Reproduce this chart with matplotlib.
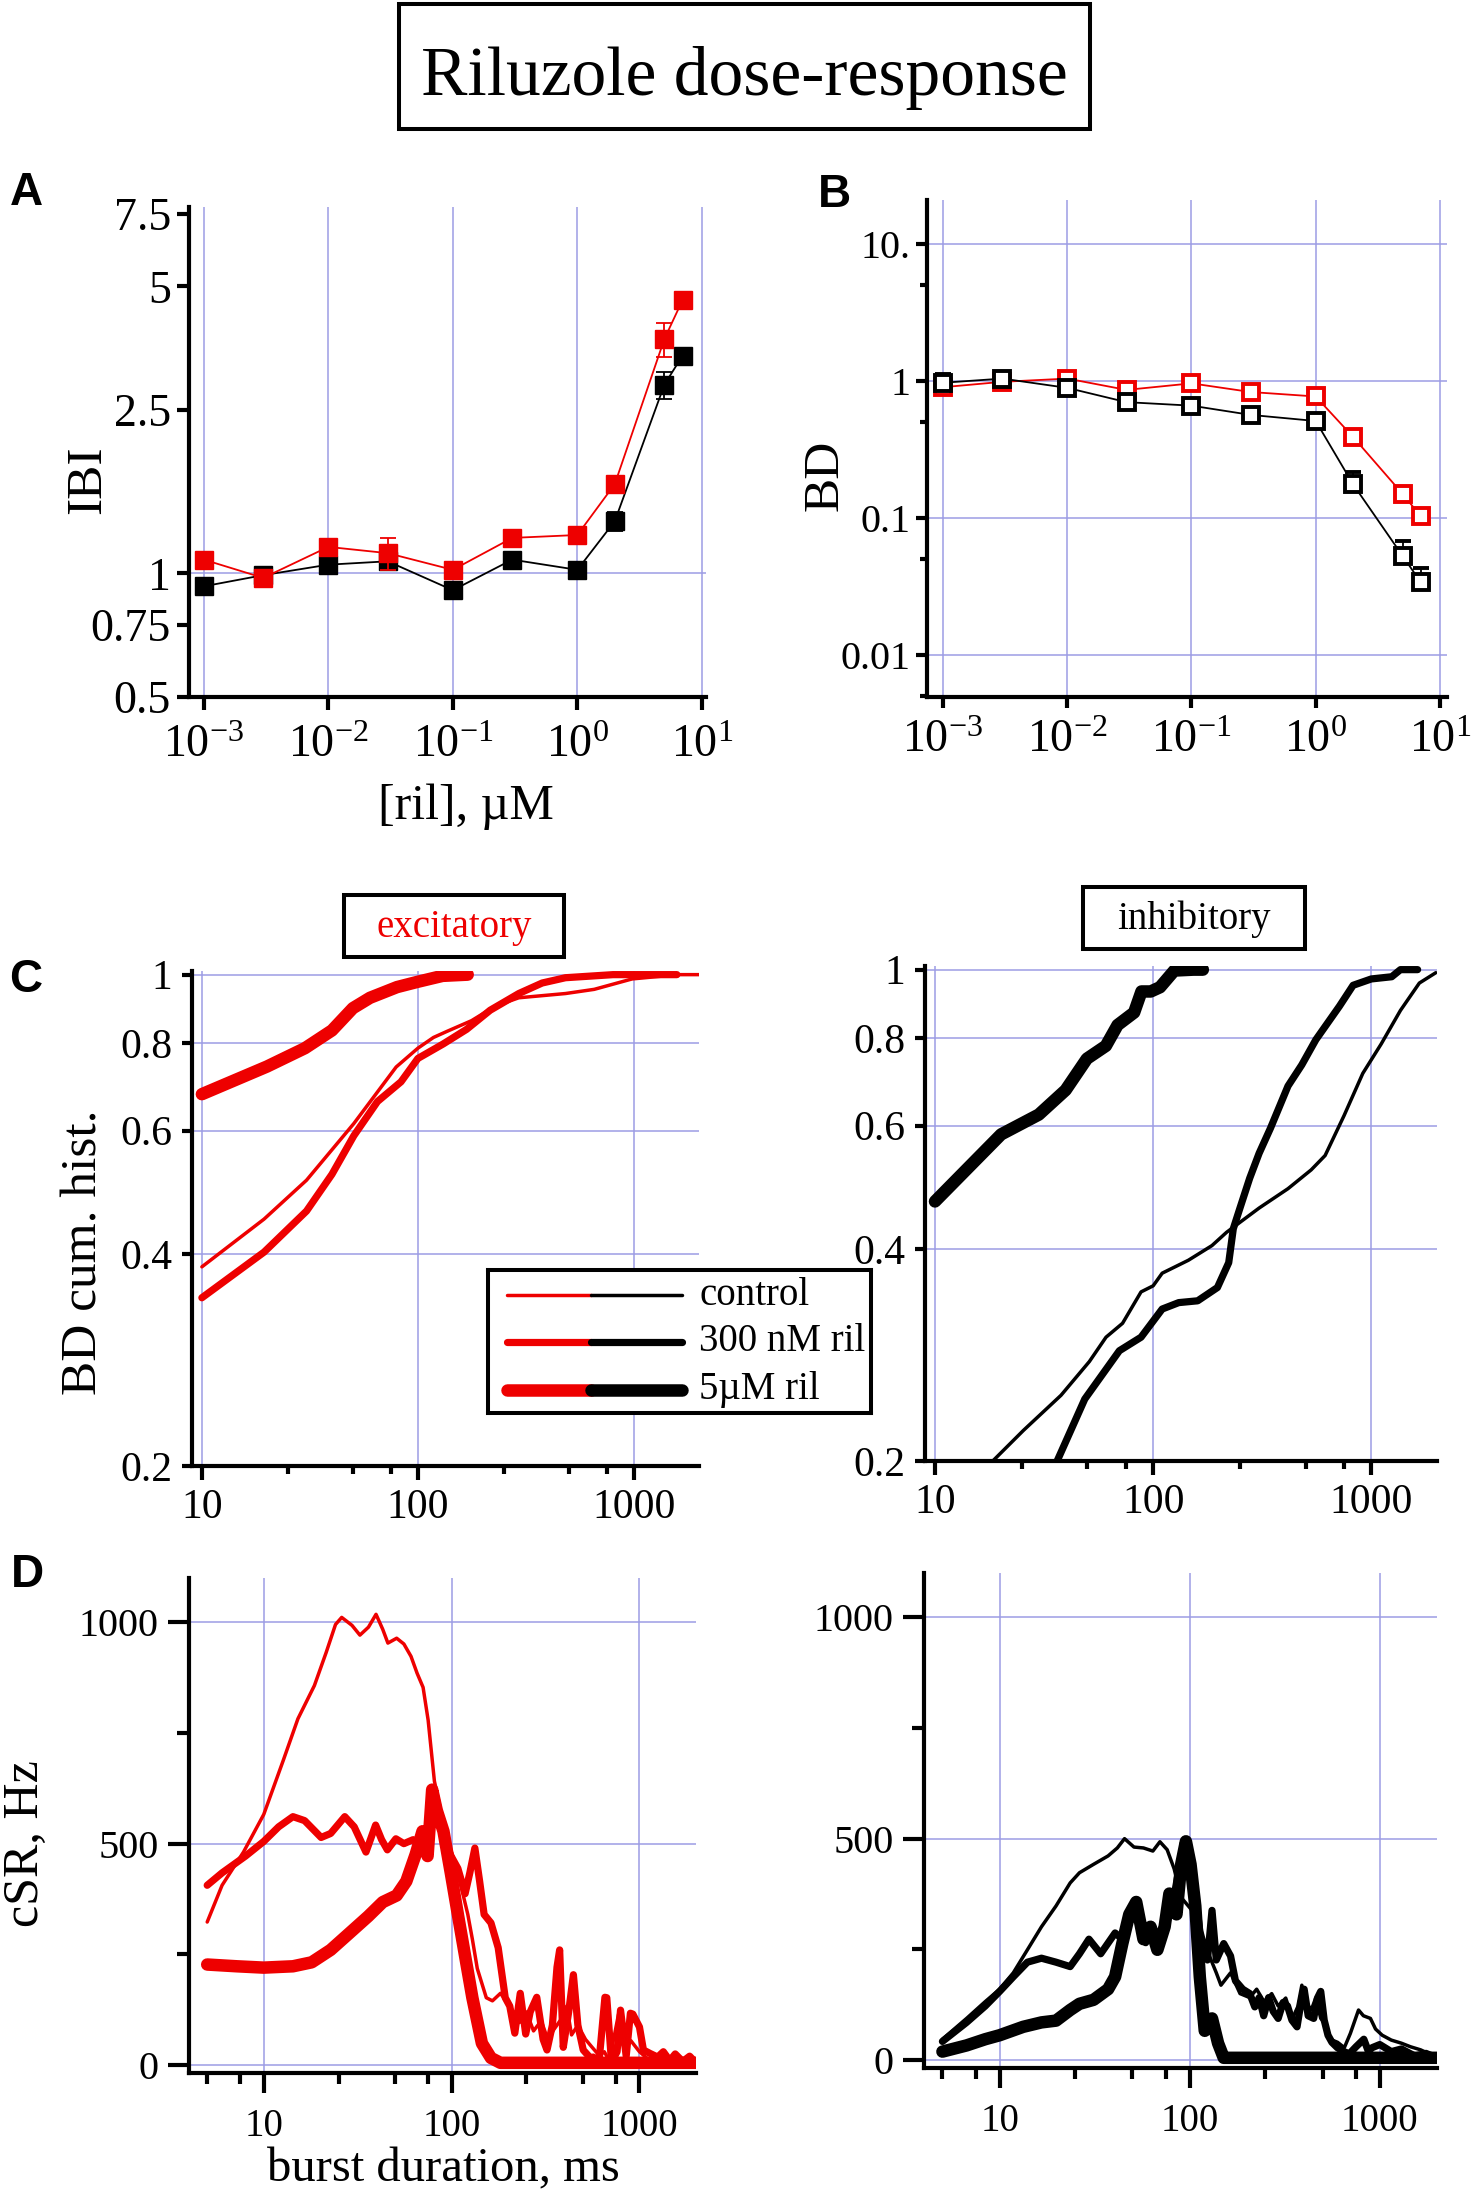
import numpy as np
import matplotlib
matplotlib.use('Agg')
import matplotlib.pyplot as plt
from matplotlib.patches import Rectangle
from matplotlib.ticker import LogLocator, NullLocator, NullFormatter, FixedLocator

plt.rcParams['font.family'] = ['Liberation Serif', 'DejaVu Serif']
plt.rcParams['mathtext.fontset'] = 'custom'
plt.rcParams['mathtext.rm'] = 'Liberation Serif'
plt.rcParams['mathtext.default'] = 'regular'

RED = '#ee0000'
GRID = '#9c9ce4'
W, H = 1471, 2192

# ---- panel A / B: dose response ----
conc = [0.001, 0.003, 0.01, 0.03, 0.1, 0.3, 1, 2, 5, 7]
ibi_exc = [1.08, 0.975, 1.16, 1.12, 1.02, 1.22, 1.24, 1.65, 3.72, 4.63]
ibi_exc_err = [0.03, 0.02, 0.04, 0.10, 0.03, 0.03, 0.03, 0.05, 0.35, 0.08]
ibi_inh = [0.93, 0.99, 1.05, 1.07, 0.91, 1.08, 1.02, 1.34, 2.88, 3.39]
ibi_inh_err = [0.03, 0.02, 0.03, 0.03, 0.03, 0.03, 0.02, 0.07, 0.22, 0.06]

bd_exc = [0.90, 0.985, 1.04, 0.86, 0.96, 0.83, 0.77, 0.39, 0.15, 0.103]
bd_exc_err = [0.04, 0.03, 0.05, 0.04, 0.05, 0.05, 0.04, 0.02, 0.01, 0.005]
bd_inh = [0.97, 1.04, 0.89, 0.70, 0.66, 0.565, 0.51, 0.176, 0.053, 0.034]
bd_inh_err = [0.15, 0.10, 0.05, 0.04, 0.04, 0.07, 0.04, 0.04, 0.015, 0.009]

# ---- panel C: BD cumulative histograms ----
cexc_ctrl_x = [10, 19.4, 30.5, 50.5, 79.3, 100, 118, 137, 177, 228, 293, 482, 655, 980, 1600, 2000]
cexc_ctrl_y = [0.384, 0.449, 0.51, 0.614, 0.739, 0.786, 0.814, 0.831, 0.86, 0.902, 0.927, 0.94, 0.953, 0.986, 1.0, 1.0]
cexc_300_x = [10, 19.4, 30.5, 40, 50.5, 65, 83.5, 100, 131, 168, 216, 293, 376, 482, 800, 1580]
cexc_300_y = [0.347, 0.403, 0.461, 0.52, 0.59, 0.66, 0.704, 0.76, 0.797, 0.836, 0.89, 0.94, 0.973, 0.99, 1.0, 1.0]
cexc_5u_x = [10, 20, 30, 40, 50, 60, 80, 100, 130, 170]
cexc_5u_y = [0.676, 0.74, 0.786, 0.833, 0.896, 0.927, 0.96, 0.977, 0.996, 1.0]

cinh_ctrl_x = [18.4, 25.4, 37.8, 51, 60.8, 72.4, 88, 100, 110, 145, 186, 217, 306, 415, 530, 614, 750, 914, 1110, 1360, 1660, 1975]
cinh_ctrl_y = [0.2, 0.221, 0.248, 0.277, 0.30, 0.314, 0.348, 0.355, 0.37, 0.386, 0.405, 0.423, 0.458, 0.488, 0.519, 0.544, 0.62, 0.712, 0.784, 0.875, 0.957, 0.99]
cinh_300_x = [35, 48.6, 70, 88, 110, 131, 160, 197, 222, 233, 250, 277, 306, 345, 415, 480, 557, 714, 825, 1000, 1240, 1360, 1630]
cinh_300_y = [0.195, 0.245, 0.287, 0.30, 0.329, 0.336, 0.338, 0.353, 0.383, 0.428, 0.458, 0.505, 0.548, 0.595, 0.683, 0.732, 0.795, 0.887, 0.95, 0.97, 0.977, 1.0, 1.0]
cinh_5u_x = [10, 20.1, 29.9, 39.7, 49.7, 60.7, 68.7, 81.8, 88.4, 97.5, 107.5, 125, 153, 169]
cinh_5u_y = [0.468, 0.583, 0.622, 0.674, 0.747, 0.779, 0.834, 0.869, 0.931, 0.931, 0.944, 0.997, 1.0, 1.0]

# ---- panel D: cSR vs burst duration ----
dexc_ctrl_x = [5, 6, 7.8, 10, 12.7, 15.2, 18.6, 21.5, 24.1, 26.0, 29.5, 32.5, 36.1, 39.6, 43, 45.8, 51, 55.7, 60.8, 65.5,
               70.5, 75, 81, 88.5, 96.7, 108, 122, 129, 137, 153, 165, 182, 204, 230, 250, 273, 300, 325, 350, 385,
               410, 435, 470, 516, 560, 612, 650, 688, 730, 774, 820, 850, 900, 1000, 1100, 1200, 1350, 1500, 1700, 2000]
dexc_ctrl_y = [323, 406, 481, 566, 688, 782, 857, 932, 995, 1011, 993, 971, 989, 1018, 984, 953, 964, 951, 923, 885,
               853, 779, 641, 566, 500, 434, 340, 284, 218, 152, 145, 162, 133, 96, 120, 77, 100, 58, 80, 105,
               133, 68, 90, 58, 40, 21, 30, 11, 60, 115, 50, 40, 55, 30, 15, 10, 20, 5, 12, 3]
dexc_300_x = [5, 6, 8, 10, 12, 14.3, 16.5, 20.2, 22.7, 27, 30.3, 35, 39.4, 42.4, 45.5, 50.5, 55.7, 62.4, 70, 74.5,
              78.8, 83.4, 88.5, 96.7, 108, 118, 125, 133, 141, 149, 162, 177, 193, 204, 217, 232, 248, 262, 284, 307,
              322, 344, 364, 376, 393, 420, 445, 470, 502, 548, 567, 610, 655, 670, 710, 760, 793, 850, 895, 922,
              1000, 1050, 1140, 1250, 1340, 1450, 1550, 1700, 1850, 2000]
dexc_300_y = [406, 434, 472, 505, 538, 561, 552, 514, 523, 561, 538, 481, 542, 509, 486, 511, 500, 509, 495, 528,
              603, 575, 528, 481, 444, 387, 434, 490, 415, 340, 321, 265, 152, 133, 72, 162, 70, 120, 153, 58,
              34, 90, 221, 260, 40, 120, 204, 90, 34, 16, 18, 10, 153, 152, 7, 30, 124, 20, 117, 115,
              86, 34, 26, 18, 30, 10, 25, 8, 20, 5]
dexc_5u_x = [5, 7.2, 10, 14.3, 18, 22.7, 28.6, 36, 43, 51, 57.4, 64.4, 70, 74.5, 78.8, 83.4, 90.5, 99, 108, 118,
             129, 145, 162, 182, 300, 600, 1000, 2000]
dexc_5u_y = [227, 223, 220, 223, 232, 260, 298, 336, 368, 383, 415, 476, 528, 472, 622, 575, 528, 434, 340, 246,
             152, 49, 16, 5, 5, 5, 5, 5]

dinh_ctrl_x = [5, 6.7, 8.4, 10, 11.8, 14, 16.6, 19.8, 23.5, 26.3, 31.2, 37.2, 41.6, 45.4, 50.9, 57.1, 64, 69.7, 76.1,
               82.8, 90.2, 98.3, 107, 117, 127, 138, 146, 164, 184, 207, 225, 246, 270, 292, 320, 347, 370, 389, 410,
               436, 460, 489, 520, 548, 600, 651, 700, 773, 820, 893, 950, 1030, 1150, 1300, 1450, 1640, 1800, 2000]
dinh_ctrl_y = [47, 94, 132, 160, 197, 249, 301, 348, 400, 423, 442, 461, 479, 500, 481, 479, 472, 493, 475,
               432, 367, 348, 329, 263, 235, 197, 169, 197, 150, 141, 160, 132, 150, 122, 140, 94, 120, 169, 130,
               113, 140, 94, 80, 47, 40, 28, 60, 113, 100, 94, 70, 56, 45, 38, 30, 23, 15, 9]
dinh_300_x = [5, 6.7, 8.4, 10, 11.8, 14, 16.6, 19.8, 23.5, 26.3, 29.5, 34, 40.5, 44.2, 49.5, 53.9, 58.7, 64, 69.7, 76,
              82.8, 90.2, 95.5, 101, 107, 113, 124, 131, 138, 151, 164, 174, 190, 207, 220, 232, 245, 260, 275, 292,
              310, 327, 345, 367, 385, 400, 420, 449, 470, 489, 510, 534, 560, 598, 640, 691, 750, 824, 870, 913,
              1000, 1150, 1300, 1530, 1750, 2000]
dinh_300_y = [42, 85, 122, 155, 188, 221, 230, 221, 211, 240, 273, 240, 287, 273, 330, 345, 265, 300, 255, 340,
              370, 460, 495, 423, 376, 291, 226, 338, 226, 263, 235, 179, 160, 150, 120, 141, 100, 141, 110, 94,
              130, 122, 90, 75, 130, 160, 100, 94, 140, 155, 90, 56, 40, 28, 20, 14, 30, 47, 20, 28,
              35, 19, 25, 9, 15, 5]
dinh_5u_x = [5, 6.7, 8.4, 10, 13.3, 16.6, 19.8, 23.5, 26.3, 31.2, 37.2, 40.5, 44.2, 48.1, 52.3, 57.1, 62.2, 67.6, 73.8,
             78.2, 85.2, 90.2, 95.5, 101, 107, 113, 120, 131, 141, 151, 164, 300, 600, 1000, 2000]
dinh_5u_y = [19, 33, 47, 56, 75, 85, 89, 113, 127, 136, 160, 188, 263, 329, 357, 273, 301, 249, 301,
             376, 329, 442, 494, 442, 348, 188, 66, 94, 38, 5, 5, 5, 5, 5, 5]

legend_labels = ['control', '300 nM ril', '5\u00b5M ril']
widths = [2.5, 5.2, 9.0]

fig = plt.figure(figsize=(W / 100, H / 100), dpi=100)


def px_axes(l, t, r, b):
    return fig.add_axes([l / W, 1 - b / H, (r - l) / W, (b - t) / H])


def fig_text(x, y, s, **kw):
    fig.text(x / W, 1 - y / H, s, ha='center', va='center', **kw)


def fig_box(l, t, r, b, lw=2.9):
    fig.add_artist(Rectangle((l / W, 1 - b / H), (r - l) / W, (b - t) / H,
                             transform=fig.transFigure, fill=False, lw=lw, ec='black'))


def base_style(ax):
    for s in ['top', 'right']:
        ax.spines[s].set_visible(False)
    for s in ['left', 'bottom']:
        ax.spines[s].set_linewidth(3)
    ax.set_axisbelow(True)


def ticks(ax, axis, maj, mnr, size, pad):
    ax.tick_params(axis=axis, which='major', direction='out', length=maj, width=3,
                   labelsize=size, pad=pad)
    ax.tick_params(axis=axis, which='minor', direction='out', length=mnr, width=3)


dec_ticks = [1e-3, 1e-2, 1e-1, 1, 10]
dec_labels = ['$10^{-3}$', '$10^{-2}$', '$10^{-1}$', '$10^{0}$', '$10^{1}$']

# ---------- A ----------
axA = px_axes(189, 207, 706, 697)
base_style(axA)
axA.set_xscale('log')
axA.set_yscale('log')
axA.errorbar(conc, ibi_inh, yerr=ibi_inh_err, fmt='-s', color='black', ms=13.5, lw=1.3,
             elinewidth=1.3, capsize=6, capthick=1.3, clip_on=False, zorder=3)
axA.errorbar(conc, ibi_exc, yerr=ibi_exc_err, fmt='-s', color=RED, ms=13.5, lw=1.3,
             elinewidth=1.3, capsize=6, capthick=1.3, clip_on=False, zorder=4)
axA.set_xlim(7.6e-4, 10.8)
axA.set_ylim(0.5, 7.8)
axA.set_xticks(dec_ticks, dec_labels)
axA.xaxis.set_minor_locator(LogLocator(base=10, subs=(2, 4, 6, 8)))
axA.xaxis.set_minor_formatter(NullFormatter())
axA.set_yticks([0.5, 0.75, 1, 2.5, 5, 7.5], ['0.5', '0.75', '1', '2.5', '5', '7.5'])
axA.yaxis.set_minor_locator(NullLocator())
axA.grid(axis='x', which='major', color=GRID, lw=1.1)
axA.axhline(1, color=GRID, lw=1.1, zorder=0.5)
ticks(axA, 'x', 9, 5, 33, 11)
ticks(axA, 'y', 9, 5, 33, 4)

# ---------- B ----------
axB = px_axes(927, 200, 1447, 697)
base_style(axB)
axB.set_xscale('log')
axB.set_yscale('log')
axB.errorbar(conc, bd_exc, yerr=[np.zeros(len(conc)), bd_exc_err], fmt='-s', color=RED, ms=12,
             mfc='white', mew=2.8, lw=1.3, elinewidth=1.3, capsize=6, capthick=1.3, zorder=3)
axB.errorbar(conc, bd_inh, yerr=[np.zeros(len(conc)), bd_inh_err], fmt='-s', color='black', ms=12,
             mfc='white', mew=2.8, lw=1.3, elinewidth=1.3, capsize=6, capthick=1.3, zorder=4)
axB.set_xlim(7.43e-4, 11.4)
axB.set_ylim(0.00494, 20.9)
axB.set_xticks(dec_ticks, dec_labels)
axB.xaxis.set_minor_locator(LogLocator(base=10, subs=(2, 4, 6, 8)))
axB.xaxis.set_minor_formatter(NullFormatter())
axB.set_yticks([0.01, 0.1, 1, 10], ['0.01', '0.1', '1', '10.'])
axB.yaxis.set_minor_locator(LogLocator(base=10, subs=(5,)))
axB.yaxis.set_minor_formatter(NullFormatter())
axB.grid(which='major', color=GRID, lw=1.1)
ticks(axB, 'x', 8, 5, 33, 8)
ticks(axB, 'y', 8, 5, 29, 4)


# ---------- C ----------
def cum_axes(l, t, r, b):
    ax = px_axes(l, t, r, b)
    base_style(ax)
    ax.set_xscale('log')
    ax.set_yscale('log')
    ax.set_xlim(9.0, 2000)
    ax.set_ylim(0.2, 1.012)
    ax.set_xticks([10, 100, 1000], ['10', '100', '1000'])
    ax.xaxis.set_minor_locator(LogLocator(base=10, subs=(2.5, 5, 7.5)))
    ax.xaxis.set_minor_formatter(NullFormatter())
    ax.set_yticks([0.2, 0.4, 0.6, 0.8, 1], ['0.2', '0.4', '0.6', '0.8', '1'])
    ax.yaxis.set_minor_locator(NullLocator())
    ax.grid(which='major', color=GRID, lw=1.1)
    ticks(ax, 'x', 10, 6, 30, 6)
    ticks(ax, 'y', 7, 4, 30, 7)
    return ax


axC1 = cum_axes(192, 971, 699, 1466)
axC2 = cum_axes(925, 966, 1437, 1461)
for ax, col, sets in [
        (axC1, RED, [(cexc_ctrl_x, cexc_ctrl_y), (cexc_300_x, cexc_300_y), (cexc_5u_x, cexc_5u_y)]),
        (axC2, 'black', [(cinh_ctrl_x, cinh_ctrl_y), (cinh_300_x, cinh_300_y), (cinh_5u_x, cinh_5u_y)])]:
    for (xs, ys), lw in zip(sets, widths):
        ax.plot(xs, ys, color=col, lw=lw, solid_capstyle='round', solid_joinstyle='round')


# ---------- D ----------
def csr_axes(l, t, r, b):
    ax = px_axes(l, t, r, b)
    base_style(ax)
    ax.set_xscale('log')
    ax.set_xlim(4, 2000)
    ax.set_ylim(-18, 1100)
    ax.set_xticks([10, 100, 1000], ['10', '100', '1000'])
    ax.xaxis.set_minor_locator(LogLocator(base=10, subs=(2.5, 5, 7.5)))
    ax.xaxis.set_minor_formatter(NullFormatter())
    ax.set_yticks([0, 500, 1000], ['0', '500', '1000'])
    ax.yaxis.set_minor_locator(FixedLocator([250, 750]))
    ax.grid(which='major', color=GRID, lw=1.1)
    ticks(ax, 'x', 14.5, 8, 28, 11)
    ticks(ax, 'y', 15, 9, 29, 7)
    return ax


axD1 = csr_axes(189, 1578, 696, 2073)
axD2 = csr_axes(924, 1573, 1437, 2068)
for ax, col, sets in [
        (axD1, RED, [(dexc_ctrl_x, dexc_ctrl_y), (dexc_300_x, dexc_300_y), (dexc_5u_x, dexc_5u_y)]),
        (axD2, 'black', [(dinh_ctrl_x, dinh_ctrl_y), (dinh_300_x, dinh_300_y), (dinh_5u_x, dinh_5u_y)])]:
    for (xs, ys), lw in zip(sets, widths):
        ax.plot(xs, ys, color=col, lw=lw, solid_capstyle='round', solid_joinstyle='round')

# ---------- legend ----------
leg = px_axes(488, 1270, 871, 1413)
leg.set_xlim(0, 1)
leg.set_ylim(0, 1)
leg.set_xticks([])
leg.set_yticks([])
for s in leg.spines.values():
    s.set_linewidth(2.9)
for yy, lw, lab in zip([0.825, 0.497, 0.161], widths, legend_labels):
    leg.plot([0.05, 0.269], [yy, yy], color=RED, lw=lw, solid_capstyle='round')
    leg.plot([0.269, 0.507], [yy, yy], color='black', lw=lw, solid_capstyle='round')
    leg.text(0.551, yy, lab, va='center', ha='left', fontsize=28)

# ---------- texts ----------
fig_box(399, 4, 1090, 129)
fig_text(744, 78, 'Riluzole dose-response', fontsize=50)
fig_box(344, 895, 564, 957)
fig_text(454, 927, 'excitatory', fontsize=28, color=RED)
fig_box(1083, 887, 1305, 949)
fig_text(1194, 919, 'inhibitory', fontsize=28)

fig_text(88, 480, 'IBI', fontsize=37, rotation=90)
fig_text(466, 807, '[ril], \u00b5M', fontsize=36)
fig_text(825, 475, 'BD', fontsize=37, rotation=90)
fig_text(84, 1252, 'BD cum. hist.', fontsize=37, rotation=90)
fig_text(26, 1844, 'cSR, Hz', fontsize=36, rotation=90)
fig_text(443, 2169, 'burst duration, ms', fontsize=35)

for lab, x, y in [('A', 26, 193), ('B', 834, 195), ('C', 26, 980), ('D', 27, 1575)]:
    fig_text(x, y, lab, fontsize=33, fontweight='bold', family=['Liberation Sans', 'DejaVu Sans'])

fig.savefig('out.png', dpi=100)
